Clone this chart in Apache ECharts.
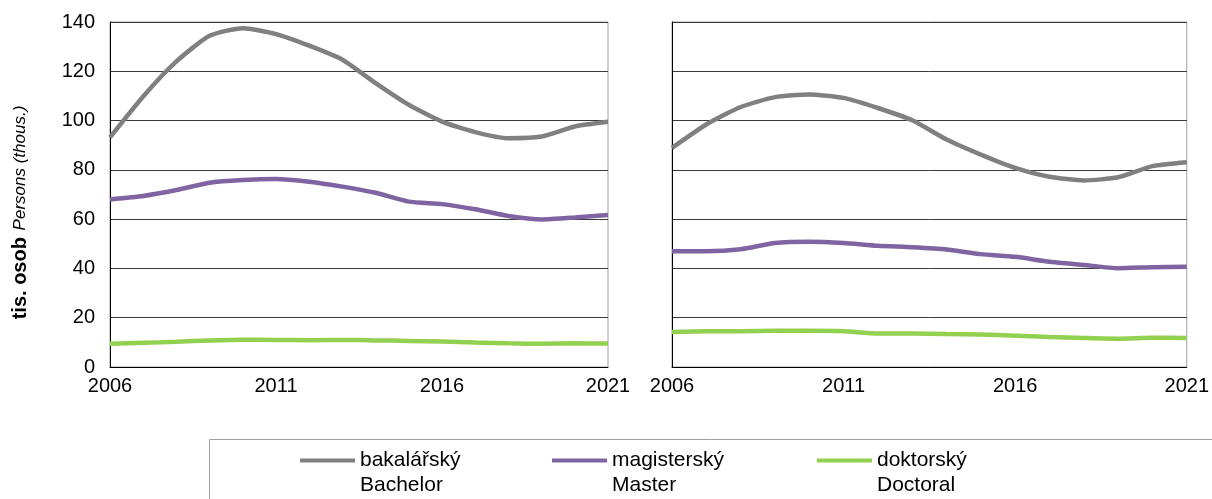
<!DOCTYPE html>
<html>
<head>
<meta charset="utf-8">
<script src="https://cdn.jsdelivr.net/npm/echarts@6/dist/echarts.min.js"></script>
<style>
  html, body { margin: 0; padding: 0; background: #fff; }
  #chart { width: 1212px; height: 499px; }
</style>
</head>
<body>
<div id="chart"></div>
<script>
// years on the x axis
const years = ['2006', '2007', '2008', '2009', '2010', '2011', '2012', '2013',
  '2014', '2015', '2016', '2017', '2018', '2019', '2020', '2021'];

// left panel
const bachelorLeft = [93.2, 109.8, 124, 134.4, 137.5, 135.1, 130.4, 124.7, 115.2, 106.4, 99.6, 95.3, 92.8, 93.5, 97.6, 99.5];
const masterLeft = [68.0, 69.4, 71.8, 74.8, 75.9, 76.3, 75.2, 73.2, 70.7, 67.1, 66.1, 64.0, 61.3, 59.9, 60.7, 61.7];
const doctoralLeft = [9.4, 9.8, 10.2, 10.8, 11.1, 11.0, 10.9, 11.0, 10.8, 10.6, 10.3, 9.9, 9.6, 9.4, 9.6, 9.5];

// right panel
const bachelorRight = [88.9, 98.4, 105.5, 109.5, 110.6, 109.2, 105.1, 100.1, 92.3, 86.2, 80.8, 77.2, 75.7, 77.0, 81.5, 83.1];
const masterRight = [47.0, 47.0, 47.8, 50.3, 50.8, 50.3, 49.2, 48.6, 47.7, 45.8, 44.7, 42.7, 41.4, 40.1, 40.5, 40.7];
const doctoralRight = [14.2, 14.5, 14.5, 14.7, 14.7, 14.5, 13.6, 13.6, 13.4, 13.2, 12.7, 12.2, 11.8, 11.5, 11.9, 11.8];

const seriesNames = ['bakalářský\nBachelor', 'magisterský\nMaster', 'doktorský\nDoctoral'];
const colors = ['#808080', '#8064a2', '#92d050'];
const legendLefts = [295, 547, 812];

const font = 'Liberation Sans, Arial, sans-serif';

let chart = echarts.init(document.getElementById('chart'));

function xAxisFor (gridIndex) {
  return {
    type: 'category',
    gridIndex: gridIndex,
    data: years,
    boundaryGap: false,
    axisLine: { show: true, lineStyle: { color: '#000', width: 1 } },
    axisTick: { show: false },
    splitLine: { show: false },
    axisLabel: {
      interval: 4,
      margin: 9,
      color: '#000',
      fontSize: 20,
      fontFamily: font
    }
  };
}

function yAxisFor (gridIndex, showLabels) {
  let axis = {
    type: 'value',
    gridIndex: gridIndex,
    min: 0,
    max: 140,
    interval: 20,
    axisLine: { show: true, lineStyle: { color: '#000', width: 1 } },
    axisTick: { show: false },
    splitLine: { show: true, lineStyle: { color: '#3a3a3a', width: 1 } },
    axisLabel: {
      show: showLabels,
      margin: 15,
      color: '#000',
      fontSize: 20,
      fontFamily: font
    }
  };
  if (showLabels) {
    axis.name = '{b|tis. osob}  {i|Persons (thous.)}{s|}';
    axis.nameLocation = 'middle';
    axis.nameRotate = 90;
    axis.nameGap = 80;
    axis.nameTextStyle = {
      rich: {
        b: { fontWeight: 'bold', fontSize: 20, color: '#000', fontFamily: font },
        i: { fontStyle: 'italic', fontSize: 17, color: '#000', fontFamily: font },
        s: { width: 36 }
      }
    };
  }
  return axis;
}

function lineSeries (name, data, idx, panel) {
  return {
    name: name,
    type: 'line',
    xAxisIndex: panel,
    yAxisIndex: panel,
    data: data,
    symbol: 'none',
    smooth: 0.2,
    lineStyle: { width: 4.5, color: colors[idx] },
    itemStyle: { color: colors[idx] }
  };
}

chart.setOption({
  animation: false,
  color: colors,
  grid: [
    { left: 110, right: 604, top: 22, bottom: 132, show: true, borderColor: '#a0a0a0', borderWidth: 1 },
    { left: 672, right: 20, top: 22, bottom: 132, show: true, borderColor: '#a0a0a0', borderWidth: 1 }
  ],
  xAxis: [xAxisFor(0), xAxisFor(1)],
  yAxis: [yAxisFor(0, true), yAxisFor(1, false)],
  // one legend per item; an empty first line keeps the icon level with the Czech line
  legend: seriesNames.map((name, i) => ({
    data: [name],
    left: legendLefts[i],
    top: 418,
    itemWidth: 55,
    itemHeight: 4,
    itemGap: 8,
    icon: 'rect',
    formatter: n => '\n' + n,
    textStyle: {
      color: '#000',
      fontSize: 21,
      fontFamily: font,
      lineHeight: 25
    }
  })),
  graphic: [
    {
      type: 'rect',
      left: 207,
      top: 437,
      shape: { width: 1020, height: 80 },
      style: { fill: 'none', stroke: '#a0a0a0', lineWidth: 1 },
      silent: true
    }
  ],
  series: [
    lineSeries(seriesNames[0], bachelorLeft, 0, 0),
    lineSeries(seriesNames[1], masterLeft, 1, 0),
    lineSeries(seriesNames[2], doctoralLeft, 2, 0),
    lineSeries(seriesNames[0], bachelorRight, 0, 1),
    lineSeries(seriesNames[1], masterRight, 1, 1),
    lineSeries(seriesNames[2], doctoralRight, 2, 1)
  ]
});
</script>
</body>
</html>
